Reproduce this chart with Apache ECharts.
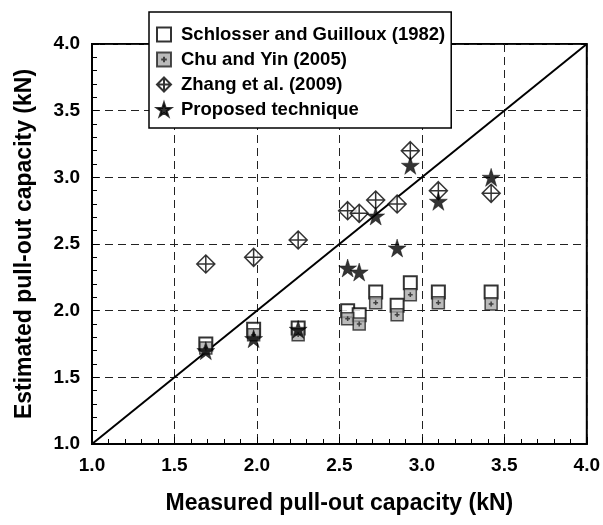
<!DOCTYPE html>
<html>
<head>
<meta charset="utf-8">
<script src="https://cdn.jsdelivr.net/npm/echarts@6/dist/echarts.min.js"></script>
<style>html,body{margin:0;padding:0;background:#fff}#c{width:603px;height:525px}</style>
</head>
<body>
<div id="c"></div>
<script>
var measured = [1.69, 1.98, 2.25, 2.55, 2.62, 2.72, 2.85, 2.93, 3.10, 3.42];
var schlosser = [1.75, 1.86, 1.87, 2.00, 1.97, 2.14, 2.04, 2.21, 2.14, 2.14];
var chuYin   = [1.72, 1.82, 1.82, 1.94, 1.90, 2.06, 1.97, 2.12, 2.06, 2.05];
var zhang    = [2.35, 2.40, 2.53, 2.75, 2.73, 2.83, 2.80, 3.20, 2.90, 2.88];
var proposed = [1.70, 1.79, 1.86, 2.32, 2.29, 2.71, 2.47, 3.09, 2.82, 3.00];
var lineXY = [[1.0, 1.0], [4.0, 4.0]];
var seriesNames = ['Schlosser and Guilloux (1982)', 'Chu and Yin (2005)', 'Zhang et al. (2009)', 'Proposed technique'];
var axisTicks = [1.0, 1.5, 2.0, 2.5, 3.0, 3.5, 4.0];

function pairs(ys) { return measured.map(function (x, i) { return [x, ys[i]]; }); }

var FONT = '"Liberation Sans", Arial, sans-serif';
var diamond = 'path://M0,-1 L1,0 L0,1 L-1,0 Z M0,-1 L0,1 M-1,0 L1,0';
var chuSym = 'path://M-1,-1 L1,-1 L1,1 L-1,1 Z M-0.4,0 L0.4,0 M0,-0.4 L0,0.4';
var star = 'path://M0,-1 L0.2245,-0.309 L0.951,-0.309 L0.363,0.118 L0.588,0.809 L0,0.382 L-0.588,0.809 L-0.363,0.118 L-0.951,-0.309 L-0.2245,-0.309 Z';

function axis(name, gap) {
  return {
    type: 'value', min: 1, max: 4, interval: 0.5,
    name: name, nameLocation: 'middle', nameGap: gap,
    nameTextStyle: { fontFamily: FONT, fontWeight: 'bold', fontSize: 23, color: '#000' },
    axisLine: { show: true, lineStyle: { color: '#000', width: 2 } },
    axisTick: { show: true, inside: true, length: 7, lineStyle: { color: '#000', width: 1 } },
    minorTick: { show: true, splitNumber: 5, length: 5, lineStyle: { color: '#000', width: 1 } },
    axisLabel: {
      fontFamily: FONT, fontWeight: 'bold', fontSize: 19, color: '#000', margin: 12,
      formatter: function (v) { return axisTicks.indexOf(v) >= 0 ? v.toFixed(1) : ''; }
    },
    splitLine: { show: true, lineStyle: { color: '#222', width: 1, type: [8, 5] } }
  };
}

var chart = echarts.init(document.getElementById('c'), null, { renderer: 'canvas' });
chart.setOption({
  animation: false,
  backgroundColor: '#fff',
  grid: { left: 92, right: 14, top: 44, bottom: 81, show: true, borderColor: '#000', borderWidth: 2, backgroundColor: 'transparent' },
  xAxis: axis('Measured pull-out capacity (kN)', 48),
  yAxis: axis('Estimated pull-out capacity (kN)', 56),
  legend: {
    orient: 'vertical', left: 149, top: 12,
    padding: [13, 6, 9, 7], itemGap: 6, itemWidth: 14, itemHeight: 14,
    backgroundColor: '#fff', borderColor: '#000', borderWidth: 1.5,
    data: seriesNames,
    textStyle: { fontFamily: FONT, fontWeight: 'bold', fontSize: 18.5, color: '#000', padding: [0, 0, 0, 5] }
  },
  series: [
    { type: 'line', data: lineXY, showSymbol: false, silent: true, lineStyle: { color: '#000', width: 2 }, z: 1 },
    { name: seriesNames[0], type: 'scatter', data: pairs(schlosser), symbol: 'rect', symbolSize: 13,
      itemStyle: { color: '#fff', borderColor: '#000', borderWidth: 2 }, z: 2 },
    { name: seriesNames[1], type: 'scatter', data: pairs(chuYin), symbol: chuSym, symbolSize: 12,
      itemStyle: { color: '#aaaaaa', borderColor: '#222', borderWidth: 1.5 }, z: 3 },
    { name: seriesNames[2], type: 'scatter', data: pairs(zhang), symbol: diamond, symbolSize: 18,
      itemStyle: { color: '#fff', borderColor: '#000', borderWidth: 1.5 }, z: 4 },
    { name: seriesNames[3], type: 'scatter', data: pairs(proposed), symbol: star, symbolSize: 18,
      itemStyle: { color: '#000', borderColor: '#000', borderWidth: 0.5 }, z: 5 }
  ]
});
</script>
</body>
</html>
